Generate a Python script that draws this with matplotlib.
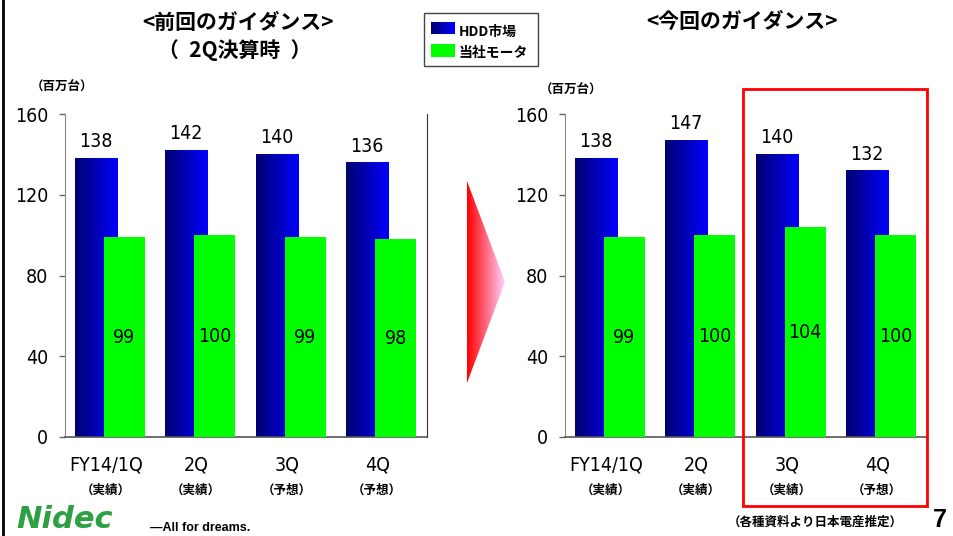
import numpy as np
import matplotlib
matplotlib.use("Agg")
import matplotlib.pyplot as plt
from matplotlib.patches import Polygon, Rectangle
from matplotlib.colors import LinearSegmentedColormap

quarters = ["FY14/1Q", "2Q", "3Q", "4Q"]
prev_status = ["（実績）", "（実績）", "（予想）", "（予想）"]
curr_status = ["（実績）", "（実績）", "（実績）", "（予想）"]
prev_hdd = [138, 142, 140, 136]
prev_motor = [99, 100, 99, 98]
curr_hdd = [138, 147, 140, 132]
curr_motor = [99, 100, 104, 100]
yticks = [0, 40, 80, 120, 160]

NUM = dict(family="DejaVu Sans", fontstretch="condensed")
JP = ["Noto Sans CJK JP", "DejaVu Sans"]

blue_cmap = LinearSegmentedColormap.from_list("b", ["#000070", "#0000ff"])
arrow_cmap = LinearSegmentedColormap.from_list("r", ["#ff0000", "#ffd0ff"])
grad = np.linspace(0, 1, 64).reshape(1, -1)

W, H = 954, 536
fig = plt.figure(figsize=(W / 100, H / 100), dpi=100)


def fx(px):
    return px / W


def fy(py):
    return 1 - py / H


def panel(left_px, hdd, motor, status):
    ax = fig.add_axes([fx(left_px), fy(437), 362 / W, 323 / H])
    x = np.arange(len(quarters))
    for i, h in zip(x, hdd):
        ax.imshow(grad, cmap=blue_cmap, extent=(i + 0.11, i + 0.575, 0, h),
                  aspect="auto", zorder=2)
        ax.annotate(str(h), (i + 0.34, h), xytext=(0, 5), textcoords="offset points",
                    ha="center", va="bottom", fontsize=14, **NUM)
    ax.bar(x + 0.655, motor, width=0.45, color="#00ff00", zorder=3)
    for i, m in zip(x, motor):
        ax.text(i + 0.655, m / 2, str(m), ha="center", va="center",
                fontsize=14, zorder=4, **NUM)
    ax.set_xlim(0, len(quarters))
    ax.set_ylim(0, 160)
    ax.set_yticks(yticks)
    ax.set_yticklabels([str(v) for v in yticks], fontsize=14, **NUM)
    ax.set_xticks([])
    ax.tick_params(axis="y", length=4, width=1, color="#666666", pad=8)
    ax.spines["top"].set_visible(False)
    ax.spines["left"].set_color("#888888")
    ax.spines["bottom"].set_color("#555555")
    ax.spines["bottom"].set_linewidth(1.2)
    ax.spines["right"].set_color("#333333")
    ax.spines["right"].set_linewidth(0.8)
    for i, (q, s) in enumerate(zip(quarters, status)):
        ax.text(i + 0.45, -14, q, ha="center", va="center", fontsize=14, **NUM)
        ax.text(i + 0.45, -26.5, s, ha="center", va="center", fontsize=9,
                family=JP, weight="bold")
    return ax


panel(65, prev_hdd, prev_motor, prev_status)
panel(565, curr_hdd, curr_motor, curr_status)

# titles
fig.text(fx(238), fy(22), "<前回のガイダンス>", ha="center", va="center",
         fontsize=15, family=JP, weight="bold")
fig.text(fx(235), fy(50), "（\u20022Q決算時\u2002）", ha="center", va="center",
         fontsize=15, family=JP, weight="bold")
fig.text(fx(742), fy(22), "<今回のガイダンス>", ha="center", va="center",
         fontsize=15, family=JP, weight="bold")
fig.text(fx(62), fy(87), "（百万台）", ha="center", va="center",
         fontsize=9, family=JP, weight="bold")
fig.text(fx(571), fy(90), "（百万台）", ha="center", va="center",
         fontsize=9, family=JP, weight="bold")

# legend box
fig.add_artist(Rectangle((fx(424), fy(66)), 114 / W, 53 / H, transform=fig.transFigure,
                         facecolor="white", edgecolor="#444444", linewidth=1, zorder=-1))
lax = fig.add_axes([fx(431), fy(34), 24 / W, 12 / H])
lax.imshow(grad, cmap=blue_cmap, aspect="auto")
lax.axis("off")
fig.add_artist(Rectangle((fx(431), fy(57)), 24 / W, 13 / H, transform=fig.transFigure,
                         facecolor="#00ff00", edgecolor="none"))
fig.text(fx(459), fy(32), "HDD市場", va="center", fontsize=10, family=JP, weight="bold")
fig.text(fx(459), fy(53), "当社モータ", va="center", fontsize=10, family=JP, weight="bold")

# arrow
aax = fig.add_axes([fx(467), fy(383), 38 / W, 202 / H])
im = aax.imshow(grad, cmap=arrow_cmap, extent=(0, 1, 0, 1), aspect="auto")
tri = Polygon([(0, 0), (0, 1), (1, 0.5)], closed=True, transform=aax.transData,
              facecolor="none", edgecolor="none")
aax.add_patch(tri)
im.set_clip_path(tri)
aax.set_xlim(0, 1)
aax.set_ylim(0, 1)
aax.axis("off")

# highlight box
fig.add_artist(Rectangle((fx(743), fy(506)), 184 / W, 417 / H, transform=fig.transFigure,
                         facecolor="none", edgecolor="#ff0000", linewidth=2))

# slide border & footer
fig.add_artist(plt.Line2D([fx(3), fx(3)], [0, 1], transform=fig.transFigure,
                          color="black", linewidth=2))
fig.text(fx(815), fy(522), "（各種資料より日本電産推定）", ha="center", va="center",
         fontsize=9, family=JP, weight="bold")
fig.text(fx(940), fy(520), "7", ha="center", va="center", fontsize=18,
         family="Liberation Sans", weight="bold")
fig.text(fx(16), fy(519), "Nidec", ha="left", va="center", fontsize=22,
         family="DejaVu Sans", fontstretch="expanded", weight="heavy", style="italic",
         color="#2ea043")
fig.text(fx(150), fy(528), "\u2014All for dreams.", ha="left", va="center", fontsize=9,
         family="Liberation Sans", weight="bold")

fig.savefig("out.png", dpi=100)
